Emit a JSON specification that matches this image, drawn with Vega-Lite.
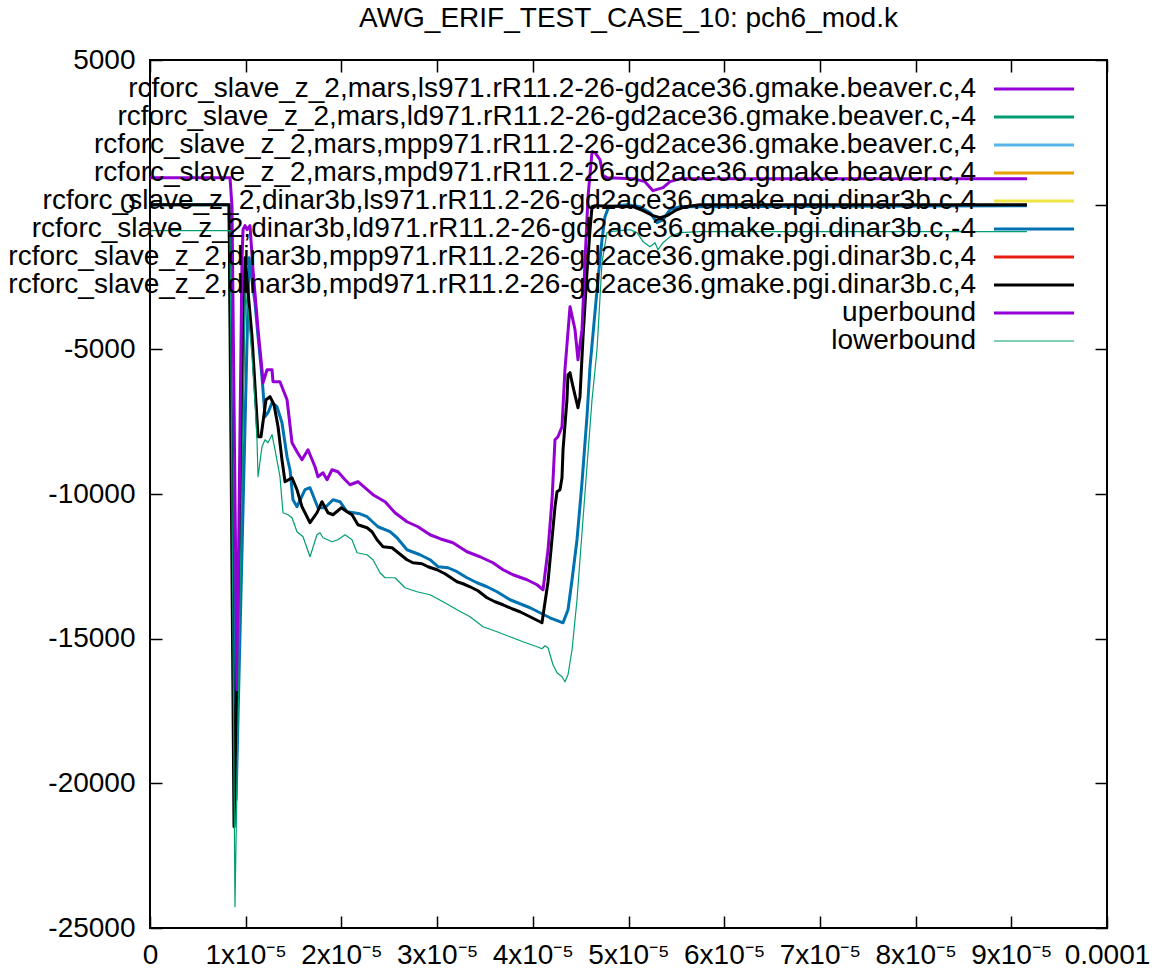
{
  "$schema": "https://vega.github.io/schema/vega-lite/v6.json",
  "width": 957,
  "height": 868,
  "autosize": {"type": "none"},
  "padding": {"left": 150, "top": 60, "right": 53, "bottom": 46},
  "background": "white",
  "title": {"text": "AWG_ERIF_TEST_CASE_10: pch6_mod.k", "font": "Liberation Sans", "fontSize": 28, "fontWeight": "normal", "color": "black", "baseline": "alphabetic", "offset": -9},
  "config": {
    "view": {"stroke": "black", "strokeWidth": 2},
    "axis": {"domain": false, "grid": false, "tickColor": "black", "tickWidth": 1.5, "tickSize": -12, "labelFont": "Liberation Sans", "labelFontSize": 28, "labelColor": "black", "labelFlush": false, "labelOverlap": false},
    "legend": {"orient": "none", "legendX": 870, "legendY": 15, "title": null, "padding": 0, "symbolType": "M-8,0H8", "symbolSize": 100, "labelAlign": "right", "labelOffset": -72, "labelFont": "Liberation Sans", "labelFontSize": 28, "labelColor": "black", "labelLimit": 0, "rowPadding": 0}
  },
  "data": {"values": [
    {"s":"s6","x":0,"y":0},{"s":"s6","x":0.826e-5,"y":0},{"s":"s6","x":0.899e-5,"y":-20569},{"s":"s6","x":1.035e-5,"y":-1832},{"s":"s6","x":1.097e-5,"y":-3388},{"s":"s6","x":1.129e-5,"y":-4563},{"s":"s6","x":1.170e-5,"y":-5946},{"s":"s6","x":1.202e-5,"y":-7329},{"s":"s6","x":1.233e-5,"y":-7190},{"s":"s6","x":1.275e-5,"y":-6845},{"s":"s6","x":1.327e-5,"y":-6983},{"s":"s6","x":1.379e-5,"y":-7536},{"s":"s6","x":1.432e-5,"y":-8712},{"s":"s6","x":1.463e-5,"y":-9161},{"s":"s6","x":1.494e-5,"y":-10198},{"s":"s6","x":1.536e-5,"y":-10440},{"s":"s6","x":1.620e-5,"y":-9852},{"s":"s6","x":1.672e-5,"y":-9783},{"s":"s6","x":1.755e-5,"y":-10475},{"s":"s6","x":1.829e-5,"y":-10475},{"s":"s6","x":1.912e-5,"y":-10198},{"s":"s6","x":1.985e-5,"y":-10267},{"s":"s6","x":2.059e-5,"y":-10613},{"s":"s6","x":2.194e-5,"y":-10683},{"s":"s6","x":2.268e-5,"y":-10786},{"s":"s6","x":2.382e-5,"y":-11132},{"s":"s6","x":2.508e-5,"y":-11304},{"s":"s6","x":2.581e-5,"y":-11512},{"s":"s6","x":2.685e-5,"y":-11927},{"s":"s6","x":2.821e-5,"y":-12100},{"s":"s6","x":2.926e-5,"y":-12272},{"s":"s6","x":3.009e-5,"y":-12514},{"s":"s6","x":3.114e-5,"y":-12549},{"s":"s6","x":3.208e-5,"y":-12687},{"s":"s6","x":3.312e-5,"y":-12895},{"s":"s6","x":3.417e-5,"y":-13067},{"s":"s6","x":3.521e-5,"y":-13206},{"s":"s6","x":3.626e-5,"y":-13379},{"s":"s6","x":3.762e-5,"y":-13655},{"s":"s6","x":3.866e-5,"y":-13793},{"s":"s6","x":3.971e-5,"y":-13932},{"s":"s6","x":4.075e-5,"y":-14105},{"s":"s6","x":4.180e-5,"y":-14278},{"s":"s6","x":4.316e-5,"y":-14451},{"s":"s6","x":4.368e-5,"y":-14001},{"s":"s6","x":4.410e-5,"y":-12964},{"s":"s6","x":4.462e-5,"y":-11581},{"s":"s6","x":4.514e-5,"y":-9610},{"s":"s6","x":4.566e-5,"y":-7329},{"s":"s6","x":4.598e-5,"y":-5600},{"s":"s6","x":4.681e-5,"y":-2593},{"s":"s6","x":4.723e-5,"y":-1210},{"s":"s6","x":4.754e-5,"y":-415},{"s":"s6","x":4.786e-5,"y":-138},{"s":"s6","x":4.807e-5,"y":-69},{"s":"s6","x":4.984e-5,"y":0},{"s":"s6","x":5.120e-5,"y":-69},{"s":"s6","x":5.225e-5,"y":-277},{"s":"s6","x":5.298e-5,"y":-622},{"s":"s6","x":5.361e-5,"y":-519},{"s":"s6","x":5.434e-5,"y":-173},{"s":"s6","x":5.538e-5,"y":-69},{"s":"s6","x":9.164e-5,"y":-35},
    {"s":"s8","x":0,"y":0},{"s":"s8","x":0.826e-5,"y":0},{"s":"s8","x":0.878e-5,"y":-21503},{"s":"s8","x":0.993e-5,"y":-1832},{"s":"s8","x":1.066e-5,"y":-4563},{"s":"s8","x":1.129e-5,"y":-8020},{"s":"s8","x":1.160e-5,"y":-8020},{"s":"s8","x":1.212e-5,"y":-6741},{"s":"s8","x":1.254e-5,"y":-6637},{"s":"s8","x":1.296e-5,"y":-6914},{"s":"s8","x":1.338e-5,"y":-7675},{"s":"s8","x":1.379e-5,"y":-8815},{"s":"s8","x":1.411e-5,"y":-9576},{"s":"s8","x":1.484e-5,"y":-9438},{"s":"s8","x":1.536e-5,"y":-9852},{"s":"s8","x":1.588e-5,"y":-10440},{"s":"s8","x":1.672e-5,"y":-10993},{"s":"s8","x":1.745e-5,"y":-10648},{"s":"s8","x":1.797e-5,"y":-10267},{"s":"s8","x":1.860e-5,"y":-10648},{"s":"s8","x":1.912e-5,"y":-10717},{"s":"s8","x":2.000e-5,"y":-10475},{"s":"s8","x":2.059e-5,"y":-10613},{"s":"s8","x":2.111e-5,"y":-10717},{"s":"s8","x":2.173e-5,"y":-11062},{"s":"s8","x":2.268e-5,"y":-11166},{"s":"s8","x":2.320e-5,"y":-11304},{"s":"s8","x":2.372e-5,"y":-11581},{"s":"s8","x":2.435e-5,"y":-11823},{"s":"s8","x":2.529e-5,"y":-11858},{"s":"s8","x":2.581e-5,"y":-11996},{"s":"s8","x":2.685e-5,"y":-12272},{"s":"s8","x":2.748e-5,"y":-12376},{"s":"s8","x":2.842e-5,"y":-12411},{"s":"s8","x":2.905e-5,"y":-12514},{"s":"s8","x":2.999e-5,"y":-12618},{"s":"s8","x":3.083e-5,"y":-12756},{"s":"s8","x":3.208e-5,"y":-13033},{"s":"s8","x":3.271e-5,"y":-13102},{"s":"s8","x":3.344e-5,"y":-13206},{"s":"s8","x":3.427e-5,"y":-13344},{"s":"s8","x":3.521e-5,"y":-13586},{"s":"s8","x":3.605e-5,"y":-13724},{"s":"s8","x":3.689e-5,"y":-13828},{"s":"s8","x":3.783e-5,"y":-13966},{"s":"s8","x":3.866e-5,"y":-14070},{"s":"s8","x":3.971e-5,"y":-14243},{"s":"s8","x":4.075e-5,"y":-14416},{"s":"s8","x":4.096e-5,"y":-14451},{"s":"s8","x":4.159e-5,"y":-13033},{"s":"s8","x":4.232e-5,"y":-10440},{"s":"s8","x":4.253e-5,"y":-9921},{"s":"s8","x":4.284e-5,"y":-9852},{"s":"s8","x":4.305e-5,"y":-9438},{"s":"s8","x":4.316e-5,"y":-8470},{"s":"s8","x":4.357e-5,"y":-6741},{"s":"s8","x":4.368e-5,"y":-5877},{"s":"s8","x":4.389e-5,"y":-5808},{"s":"s8","x":4.420e-5,"y":-6292},{"s":"s8","x":4.472e-5,"y":-7018},{"s":"s8","x":4.493e-5,"y":-6637},{"s":"s8","x":4.525e-5,"y":-4563},{"s":"s8","x":4.566e-5,"y":-2351},{"s":"s8","x":4.598e-5,"y":-864},{"s":"s8","x":4.619e-5,"y":-69},{"s":"s8","x":4.650e-5,"y":-35},{"s":"s8","x":5.047e-5,"y":-69},{"s":"s8","x":5.152e-5,"y":-207},{"s":"s8","x":5.256e-5,"y":-380},{"s":"s8","x":5.329e-5,"y":-449},{"s":"s8","x":5.402e-5,"y":-380},{"s":"s8","x":5.486e-5,"y":-207},{"s":"s8","x":5.590e-5,"y":-69},{"s":"s8","x":5.747e-5,"y":0},{"s":"s8","x":9.164e-5,"y":0},
    {"s":"up","x":0,"y":933},{"s":"up","x":0.836e-5,"y":933},{"s":"up","x":0.857e-5,"y":-69},{"s":"up","x":0.909e-5,"y":-16766},{"s":"up","x":0.961e-5,"y":-1901},{"s":"up","x":0.972e-5,"y":-864},{"s":"up","x":0.993e-5,"y":-726},{"s":"up","x":1.014e-5,"y":-864},{"s":"up","x":1.045e-5,"y":-726},{"s":"up","x":1.076e-5,"y":-2247},{"s":"up","x":1.129e-5,"y":-4321},{"s":"up","x":1.170e-5,"y":-5704},{"s":"up","x":1.181e-5,"y":-6153},{"s":"up","x":1.223e-5,"y":-5704},{"s":"up","x":1.275e-5,"y":-5704},{"s":"up","x":1.285e-5,"y":-6119},{"s":"up","x":1.358e-5,"y":-6119},{"s":"up","x":1.432e-5,"y":-6741},{"s":"up","x":1.484e-5,"y":-8228},{"s":"up","x":1.536e-5,"y":-8539},{"s":"up","x":1.588e-5,"y":-8815},{"s":"up","x":1.651e-5,"y":-8470},{"s":"up","x":1.724e-5,"y":-9057},{"s":"up","x":1.755e-5,"y":-9403},{"s":"up","x":1.808e-5,"y":-9265},{"s":"up","x":1.850e-5,"y":-9507},{"s":"up","x":1.902e-5,"y":-9161},{"s":"up","x":1.964e-5,"y":-9230},{"s":"up","x":2.038e-5,"y":-9507},{"s":"up","x":2.090e-5,"y":-9680},{"s":"up","x":2.173e-5,"y":-9576},{"s":"up","x":2.330e-5,"y":-10025},{"s":"up","x":2.456e-5,"y":-10267},{"s":"up","x":2.560e-5,"y":-10648},{"s":"up","x":2.685e-5,"y":-10959},{"s":"up","x":2.800e-5,"y":-11132},{"s":"up","x":2.926e-5,"y":-11408},{"s":"up","x":3.030e-5,"y":-11546},{"s":"up","x":3.166e-5,"y":-11685},{"s":"up","x":3.312e-5,"y":-11996},{"s":"up","x":3.448e-5,"y":-12169},{"s":"up","x":3.584e-5,"y":-12376},{"s":"up","x":3.689e-5,"y":-12618},{"s":"up","x":3.793e-5,"y":-12791},{"s":"up","x":3.939e-5,"y":-12964},{"s":"up","x":4.044e-5,"y":-13137},{"s":"up","x":4.107e-5,"y":-13309},{"s":"up","x":4.159e-5,"y":-11927},{"s":"up","x":4.201e-5,"y":-10198},{"s":"up","x":4.232e-5,"y":-8124},{"s":"up","x":4.263e-5,"y":-8020},{"s":"up","x":4.305e-5,"y":-7675},{"s":"up","x":4.336e-5,"y":-5704},{"s":"up","x":4.389e-5,"y":-3526},{"s":"up","x":4.441e-5,"y":-4321},{"s":"up","x":4.472e-5,"y":-5360},{"s":"up","x":4.514e-5,"y":-4321},{"s":"up","x":4.545e-5,"y":-1998},{"s":"up","x":4.577e-5,"y":277},{"s":"up","x":4.619e-5,"y":1832},{"s":"up","x":4.650e-5,"y":1798},{"s":"up","x":4.702e-5,"y":1556},{"s":"up","x":4.734e-5,"y":1003},{"s":"up","x":4.775e-5,"y":933},{"s":"up","x":5.047e-5,"y":899},{"s":"up","x":5.172e-5,"y":795},{"s":"up","x":5.256e-5,"y":484},{"s":"up","x":5.361e-5,"y":588},{"s":"up","x":5.434e-5,"y":795},{"s":"up","x":5.538e-5,"y":899},{"s":"up","x":9.164e-5,"y":899},
    {"s":"low","x":0,"y":-899},{"s":"low","x":0.836e-5,"y":-899},{"s":"low","x":0.888e-5,"y":-24268},{"s":"low","x":0.993e-5,"y":-3042},{"s":"low","x":1.024e-5,"y":-3630},{"s":"low","x":1.066e-5,"y":-5255},{"s":"low","x":1.097e-5,"y":-6845},{"s":"low","x":1.118e-5,"y":-8124},{"s":"low","x":1.129e-5,"y":-9403},{"s":"low","x":1.170e-5,"y":-8366},{"s":"low","x":1.202e-5,"y":-8124},{"s":"low","x":1.233e-5,"y":-8228},{"s":"low","x":1.275e-5,"y":-7951},{"s":"low","x":1.306e-5,"y":-8470},{"s":"low","x":1.358e-5,"y":-9403},{"s":"low","x":1.390e-5,"y":-10648},{"s":"low","x":1.442e-5,"y":-10717},{"s":"low","x":1.484e-5,"y":-10820},{"s":"low","x":1.536e-5,"y":-11304},{"s":"low","x":1.599e-5,"y":-11477},{"s":"low","x":1.672e-5,"y":-12169},{"s":"low","x":1.745e-5,"y":-11408},{"s":"low","x":1.776e-5,"y":-11339},{"s":"low","x":1.808e-5,"y":-11512},{"s":"low","x":1.902e-5,"y":-11650},{"s":"low","x":1.964e-5,"y":-11581},{"s":"low","x":2.038e-5,"y":-11408},{"s":"low","x":2.111e-5,"y":-11581},{"s":"low","x":2.163e-5,"y":-12030},{"s":"low","x":2.268e-5,"y":-12100},{"s":"low","x":2.330e-5,"y":-12272},{"s":"low","x":2.403e-5,"y":-12722},{"s":"low","x":2.456e-5,"y":-12895},{"s":"low","x":2.560e-5,"y":-12895},{"s":"low","x":2.665e-5,"y":-13240},{"s":"low","x":2.790e-5,"y":-13379},{"s":"low","x":2.926e-5,"y":-13482},{"s":"low","x":3.062e-5,"y":-13724},{"s":"low","x":3.208e-5,"y":-14001},{"s":"low","x":3.344e-5,"y":-14243},{"s":"low","x":3.480e-5,"y":-14589},{"s":"low","x":3.626e-5,"y":-14762},{"s":"low","x":3.762e-5,"y":-14935},{"s":"low","x":3.898e-5,"y":-15108},{"s":"low","x":4.044e-5,"y":-15280},{"s":"low","x":4.096e-5,"y":-15349},{"s":"low","x":4.127e-5,"y":-15246},{"s":"low","x":4.159e-5,"y":-15315},{"s":"low","x":4.211e-5,"y":-15902},{"s":"low","x":4.253e-5,"y":-16179},{"s":"low","x":4.305e-5,"y":-16317},{"s":"low","x":4.336e-5,"y":-16490},{"s":"low","x":4.368e-5,"y":-16248},{"s":"low","x":4.410e-5,"y":-15384},{"s":"low","x":4.462e-5,"y":-13655},{"s":"low","x":4.514e-5,"y":-11339},{"s":"low","x":4.566e-5,"y":-9057},{"s":"low","x":4.619e-5,"y":-6741},{"s":"low","x":4.671e-5,"y":-5013},{"s":"low","x":4.723e-5,"y":-2005},{"s":"low","x":4.775e-5,"y":-968},{"s":"low","x":4.807e-5,"y":-933},{"s":"low","x":5.016e-5,"y":-864},{"s":"low","x":5.089e-5,"y":-968},{"s":"low","x":5.152e-5,"y":-1279},{"s":"low","x":5.225e-5,"y":-1452},{"s":"low","x":5.277e-5,"y":-1314},{"s":"low","x":5.308e-5,"y":-1556},{"s":"low","x":5.361e-5,"y":-1314},{"s":"low","x":5.434e-5,"y":-1106},{"s":"low","x":5.538e-5,"y":-968},{"s":"low","x":5.747e-5,"y":-933},{"s":"low","x":9.164e-5,"y":-933}
  ]},
  "layer": [
    {
      "transform": [{"filter": "datum.s != 'low'"}],
      "mark": {"type": "line", "strokeWidth": 3, "strokeJoin": "round", "strokeCap": "butt"},
      "encoding": {
        "x": {"field": "x", "type": "quantitative", "title": null, "scale": {"domain": [0, 0.0001], "nice": false, "zero": false},
              "axis": {"orient": "bottom", "values": [0, 0.00001, 0.00002, 0.00003, 0.00004, 0.00005, 0.00006, 0.00007, 0.00008, 0.00009, 0.0001], "labelPadding": 25, "labelExpr": "datum.value == 0 ? '0' : datum.value > 0.000095 ? '0.0001' : format(datum.value * 100000, '.0f') + 'x10⁻⁵'"}},
        "y": {"field": "y", "type": "quantitative", "title": null, "scale": {"domain": [-25000, 5000], "nice": false, "zero": false},
              "axis": {"orient": "left", "values": [-25000, -20000, -15000, -10000, -5000, 0, 5000], "labelPadding": 27, "labelExpr": "datum.value < 0 ? '-' + format(-datum.value, 'd') : format(datum.value, 'd')"}},
        "color": {"field": "s", "type": "nominal", "title": null,
                  "scale": {"domain": ["s1","s2","s3","s4","s5","s6","s7","s8","up","low"], "range": ["#9400d3","#009e73","#56b4e9","#e69f00","#f0e442","#0072b2","#e51e10","#000000","#9400d3","#009e73"]},
                  "legend": {"symbolStrokeWidth": {"expr": "datum.value == 'low' ? 1.2 : 3"},
                             "labelExpr": "datum.value == 's1' ? 'rcforc_slave_z_2,mars,ls971.rR11.2-26-gd2ace36.gmake.beaver.c,4' : datum.value == 's2' ? 'rcforc_slave_z_2,mars,ld971.rR11.2-26-gd2ace36.gmake.beaver.c,-4' : datum.value == 's3' ? 'rcforc_slave_z_2,mars,mpp971.rR11.2-26-gd2ace36.gmake.beaver.c,4' : datum.value == 's4' ? 'rcforc_slave_z_2,mars,mpd971.rR11.2-26-gd2ace36.gmake.beaver.c,4' : datum.value == 's5' ? 'rcforc_slave_z_2,dinar3b,ls971.rR11.2-26-gd2ace36.gmake.pgi.dinar3b.c,4' : datum.value == 's6' ? 'rcforc_slave_z_2,dinar3b,ld971.rR11.2-26-gd2ace36.gmake.pgi.dinar3b.c,-4' : datum.value == 's7' ? 'rcforc_slave_z_2,dinar3b,mpp971.rR11.2-26-gd2ace36.gmake.pgi.dinar3b.c,4' : datum.value == 's8' ? 'rcforc_slave_z_2,dinar3b,mpd971.rR11.2-26-gd2ace36.gmake.pgi.dinar3b.c,4' : datum.value == 'up' ? 'uperbound' : 'lowerbound'"}}
      }
    },
    {
      "transform": [{"filter": "datum.s == 'low'"}],
      "mark": {"type": "line", "strokeWidth": 1.2, "strokeJoin": "round"},
      "encoding": {
        "x": {"field": "x", "type": "quantitative", "title": null, "axis": null},
        "y": {"field": "y", "type": "quantitative", "title": null, "axis": null},
        "color": {"field": "s", "type": "nominal", "title": null,
                  "scale": {"domain": ["s1","s2","s3","s4","s5","s6","s7","s8","up","low"], "range": ["#9400d3","#009e73","#56b4e9","#e69f00","#f0e442","#0072b2","#e51e10","#000000","#9400d3","#009e73"]}}
      }
    },
    {
      "mark": {"type": "line", "opacity": 0},
      "encoding": {
        "x": {"field": "x", "type": "quantitative", "title": null, "axis": {"orient": "top", "values": [0, 0.00001, 0.00002, 0.00003, 0.00004, 0.00005, 0.00006, 0.00007, 0.00008, 0.00009, 0.0001], "labels": false}},
        "y": {"field": "y", "type": "quantitative", "title": null, "axis": {"orient": "right", "values": [-25000, -20000, -15000, -10000, -5000, 0, 5000], "labels": false}},
        "detail": {"field": "s", "type": "nominal"}
      }
    }
  ],
  "resolve": {"axis": {"x": "independent", "y": "independent"}}
}
